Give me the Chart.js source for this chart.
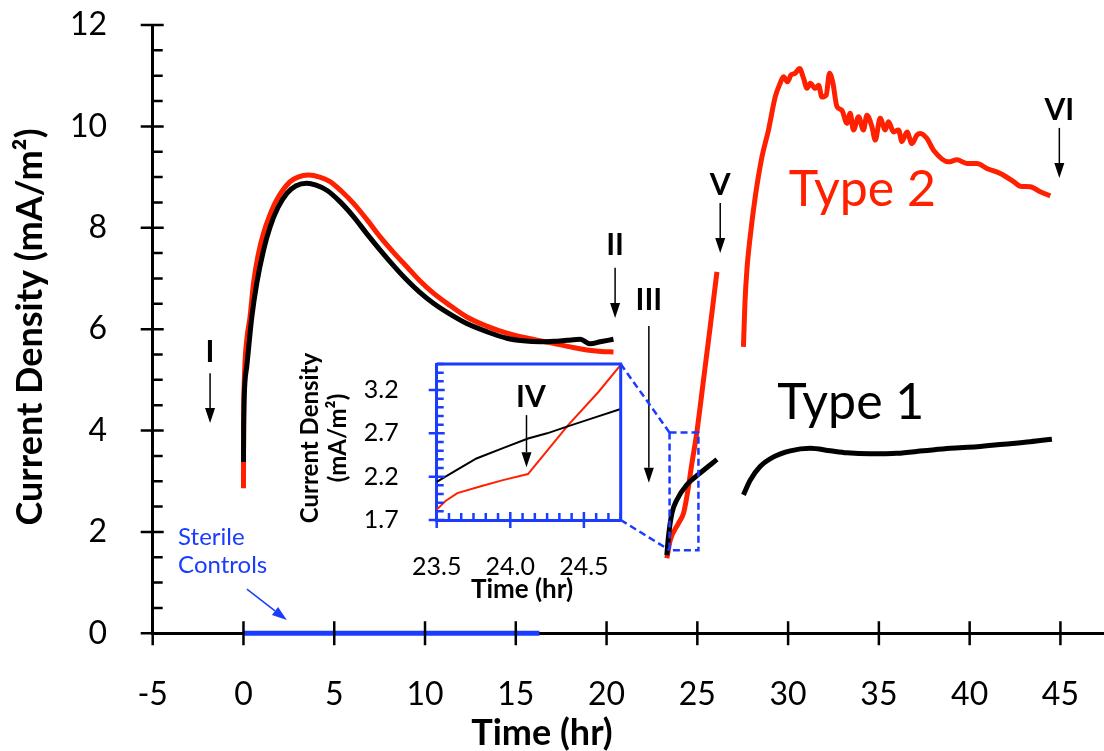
<!DOCTYPE html>
<html>
<head>
<meta charset="utf-8">
<script src="https://cdn.jsdelivr.net/npm/chart.js@4.4.1/dist/chart.umd.min.js"></script>
<style>
  html, body { margin: 0; padding: 0; background: #fff; overflow: hidden; }
  #wrap { position: relative; width: 1104px; height: 751px; }
  #main { position: absolute; left: 0; top: 0; }
  #inset { position: absolute; left: 290px; top: 350px; }
</style>
</head>
<body>
<div id="wrap">
  <canvas id="main" width="1104" height="751"></canvas>
  <canvas id="inset" width="340" height="260"></canvas>
</div>
<script>
// Time (hr) / current density (mA/m2). null marks a break between runs.
const type1Time = [0, 0.01, 0.03, 0.08, 0.18, 0.46, 0.73, 1.1, 1.47, 1.9, 2.39, 2.9, 3.49, 4.0, 4.59, 5.3, 6.06, 6.8, 7.53, 8.3, 9.0, 9.7, 10.46, 11.4, 12.3, 13.4, 14.51, 15.4, 16.34, 17.1, 17.81, 18.55, 19.1, 19.65, 20.38,
  22,
  23.32, 23.41, 23.6, 23.87, 24.42, 25.15, 26.08,
  27,
  27.54, 27.91, 28.46, 29.2, 30.12, 31.22, 32.32, 33.24, 34.52, 35.99, 37.46, 38.93, 40.4, 41.87, 43.34, 44.53]
const type1Current = [3.38, 4.0, 4.5, 4.95, 5.26, 6.24, 6.9, 7.55, 8.02, 8.4, 8.68, 8.83, 8.88, 8.84, 8.74, 8.52, 8.22, 7.88, 7.56, 7.24, 6.97, 6.73, 6.51, 6.29, 6.11, 5.95, 5.82, 5.77, 5.75, 5.76, 5.78, 5.8, 5.71, 5.75, 5.8,
  null,
  1.54, 1.91, 2.37, 2.63, 2.93, 3.16, 3.43,
  null,
  2.73, 3.02, 3.29, 3.48, 3.6, 3.65, 3.6, 3.56, 3.54, 3.55, 3.6, 3.65, 3.68, 3.73, 3.78, 3.83]

const type2Time = [0, 0.01, 0.04, 0.09, 0.2, 0.36, 0.55, 0.8, 1.1, 1.45, 1.83, 2.57, 3.0, 3.58, 4.2, 4.77, 5.4, 6.06, 6.8, 7.53, 8.3, 9.0, 9.7, 10.46, 11.4, 12.3, 13.4, 14.51, 15.8, 17.07, 18.0, 18.91, 19.7, 20.38,
  22,
  23.32, 23.51, 23.96, 24.24, 24.42, 24.7, 24.97, 25.34, 25.71, 26.08,
  27,
  27.54, 27.62, 27.73, 27.91, 28.19, 28.56, 28.92, 29.29, 29.56, 29.75, 29.97, 30.15, 30.39, 30.63, 30.85, 31.04, 31.22, 31.49, 31.68, 31.86, 32.1, 32.28, 32.47, 32.69, 32.96, 33.24, 33.42, 33.6, 33.88, 34.15, 34.34, 34.62, 34.8, 35.07, 35.35, 35.53, 35.81, 36.08, 36.27, 36.55, 36.82, 37.1, 37.28, 37.65, 38.01, 38.84, 39.3, 39.85, 40.4, 40.95, 41.69, 42.42, 42.79, 43.34, 43.89, 44.44]
const type2Current = [2.86, 4.2, 4.9, 5.39, 5.85, 6.24, 6.9, 7.45, 7.89, 8.25, 8.55, 8.91, 9.0, 9.04, 9.0, 8.91, 8.72, 8.48, 8.16, 7.82, 7.5, 7.23, 6.96, 6.71, 6.46, 6.24, 6.06, 5.92, 5.81, 5.72, 5.65, 5.59, 5.56, 5.55,
  null,
  1.48, 1.84, 2.17, 2.37, 2.69, 3.35, 3.96, 5.0, 6.05, 7.13,
  null,
  5.65, 6.5, 7.17, 7.82, 8.61, 9.4, 9.93, 10.58, 10.85, 10.98, 10.88, 11.01, 11.05, 11.14, 10.95, 10.75, 10.85, 10.75, 10.81, 10.58, 10.62, 11.05, 10.85, 10.39, 10.32, 10.06, 10.26, 9.93, 10.19, 9.93, 10.22, 9.99, 9.73, 10.16, 9.93, 10.09, 9.89, 9.93, 9.7, 9.89, 9.66, 9.83, 9.86, 9.76, 9.53, 9.3, 9.34, 9.27, 9.27, 9.17, 9.07, 8.91, 8.82, 8.81, 8.71, 8.63]

const sterileTime = [0, 4, 8, 12, 16.3]
const sterileCurrent = [0, 0, 0, 0, 0]

const xTicks = [-5, 0, 5, 10, 15, 20, 25, 30, 35, 40, 45]
const yTicks = [0, 2, 4, 6, 8, 10, 12]

// inset (zoom around 23.5 - 24.75 hr)
const insetTime1 = [23.5, 23.64, 23.77, 23.95, 24.12, 24.25, 24.39, 24.55, 24.75]
const insetType1 = [2.14, 2.28, 2.41, 2.53, 2.64, 2.7, 2.78, 2.87, 2.98]
const insetTime2 = [23.5, 23.56, 23.64, 23.8, 23.95, 24.12, 24.39, 24.6, 24.75]
const insetType2 = [1.82, 1.92, 2.01, 2.09, 2.16, 2.23, 2.79, 3.18, 3.49]
const insetXTicks = [23.5, 24.0, 24.5]
const insetYTicks = [1.7, 2.2, 2.7, 3.2]

const RED = '#ff2000'
const BLUE = '#1a3cff'

const pts = (xs, ys) => xs.map((x, i) => ({ x, y: ys[i] }))

function arrow(ctx, x1, y1, x2, y2, color) {
  const ang = Math.atan2(y2 - y1, x2 - x1)
  const hl = 15, hw = 5
  const bx = x2 - hl * Math.cos(ang), by = y2 - hl * Math.sin(ang)
  ctx.strokeStyle = color
  ctx.fillStyle = color
  ctx.lineWidth = 1.5
  ctx.beginPath()
  ctx.moveTo(x1, y1)
  ctx.lineTo(bx, by)
  ctx.stroke()
  ctx.beginPath()
  ctx.moveTo(x2, y2)
  ctx.lineTo(bx + hw * Math.sin(ang), by - hw * Math.cos(ang))
  ctx.lineTo(bx - hw * Math.sin(ang), by + hw * Math.cos(ang))
  ctx.closePath()
  ctx.fill()
}

function text(ctx, str, x, y, font, color, rot) {
  ctx.save()
  ctx.translate(x, y)
  if (rot) ctx.rotate(rot)
  ctx.font = font
  ctx.fillStyle = color
  ctx.textAlign = 'center'
  ctx.textBaseline = 'middle'
  ctx.fillText(str, 0, 0)
  ctx.restore()
}

// no extra label padding: plot edges are fixed by layout.padding and afterFit
function fixX(h) {
  return s => { s.height = h; s.paddingLeft = 0; s.paddingRight = 0 }
}
function fixY(w) {
  return s => { s.width = w; s.paddingTop = 0; s.paddingBottom = 0 }
}

// arrows + roman numerals, in data units of the main chart
const mainNotes = [
  { label: 'I', x: -1.84, y: 5.55, from: 5.13, to: 4.15 },
  { label: 'II', x: 20.47, y: 7.66, from: 7.21, to: 6.22 },
  { label: 'III', x: 22.33, y: 6.57, from: 6.06, to: 2.97 },
  { label: 'V', x: 26.26, y: 8.84, from: 8.49, to: 7.5 },
  { label: 'VI', x: 44.94, y: 10.32, from: 9.97, to: 8.98 },
]
const zoomBox = { x0: 23.47, x1: 25.06, y0: 1.64, y1: 3.96 }

let insetChart

const mainDecor = {
  id: 'mainDecor',
  afterDraw(chart) {
    const { ctx, chartArea: a, scales: { x, y } } = chart
    ctx.save()
    // tick marks
    ctx.strokeStyle = '#000'
    ctx.lineWidth = 2.5
    ctx.beginPath()
    for (let v = 0; v <= 12; v += 0.5) {
      const p = y.getPixelForValue(v)
      if (v % 2 === 0) { ctx.moveTo(a.left - 12, p); ctx.lineTo(a.left + 11, p) }
      else { ctx.moveTo(a.left, p); ctx.lineTo(a.left + 10, p) }
    }
    xTicks.forEach(v => {
      const p = x.getPixelForValue(v)
      ctx.moveTo(p, a.bottom - 12)
      ctx.lineTo(p, a.bottom + 12)
    })
    ctx.stroke()

    // axis titles
    text(ctx, 'Time (hr)', 542, 733, 'bold 36px Lato', '#000')
    text(ctx, 'Current Density (mA/m²)', 30, 327, 'bold 36px Lato', '#000', -Math.PI / 2)

    // numerals and arrows
    mainNotes.forEach(n => {
      const px = x.getPixelForValue(n.x)
      text(ctx, n.label, px, y.getPixelForValue(n.y), 'bold 30px Lato', '#000')
      arrow(ctx, px, y.getPixelForValue(n.from), px, y.getPixelForValue(n.to), '#000')
    })

    text(ctx, 'Type 2', x.getPixelForValue(34.09), y.getPixelForValue(8.74), '50px Lato', RED)
    text(ctx, 'Type 1', x.getPixelForValue(33.45), y.getPixelForValue(4.55), '50px Lato', '#000')

    ctx.font = '24px Lato'
    ctx.fillStyle = BLUE
    ctx.textAlign = 'left'
    ctx.textBaseline = 'middle'
    ctx.fillText('Sterile', x.getPixelForValue(-3.6), y.getPixelForValue(1.9))
    ctx.fillText('Controls', x.getPixelForValue(-3.6), y.getPixelForValue(1.35))
    arrow(ctx, x.getPixelForValue(0.19), y.getPixelForValue(0.87), x.getPixelForValue(2.39), y.getPixelForValue(0.26), BLUE)

    // dashed zoom box and connectors to the inset
    const bx0 = x.getPixelForValue(zoomBox.x0), bx1 = x.getPixelForValue(zoomBox.x1)
    const by0 = y.getPixelForValue(zoomBox.y0), by1 = y.getPixelForValue(zoomBox.y1)
    ctx.strokeStyle = BLUE
    ctx.lineWidth = 2.5
    ctx.setLineDash([7, 4])
    ctx.strokeRect(bx0, by1, bx1 - bx0, by0 - by1)
    if (insetChart) {
      const ia = insetChart.chartArea
      const ox = insetChart.canvas.offsetLeft, oy = insetChart.canvas.offsetTop
      ctx.beginPath()
      ctx.moveTo(ia.right + ox, ia.top + oy)
      ctx.lineTo(bx0, by1)
      ctx.moveTo(ia.right + ox, ia.bottom + oy)
      ctx.lineTo(bx0, by0)
      ctx.stroke()
    }
    ctx.restore()
  }
}

const insetDecor = {
  id: 'insetDecor',
  afterDraw(chart) {
    const { ctx, chartArea: a, scales: { x, y } } = chart
    ctx.save()
    ctx.strokeStyle = BLUE
    ctx.lineWidth = 3
    ctx.beginPath()
    ctx.moveTo(a.left, a.top); ctx.lineTo(a.right, a.top); ctx.lineTo(a.right, a.bottom)
    ctx.stroke()
    ctx.lineWidth = 2.5
    ctx.beginPath()
    for (let i = 0; i <= 15; i++) {
      const p = x.getPixelForValue(23.5 + i / 12)
      if (i % 6 === 0) { ctx.moveTo(p, a.bottom - 8); ctx.lineTo(p, a.bottom + 8) }
      else { ctx.moveTo(p, a.bottom); ctx.lineTo(p, a.bottom - 7) }
    }
    for (let i = 0; i <= 18; i++) {
      const p = y.getPixelForValue(1.7 + i * 0.1)
      if (i % 5 === 0) { ctx.moveTo(a.left - 8, p); ctx.lineTo(a.left + 8, p) }
      else { ctx.moveTo(a.left, p); ctx.lineTo(a.left + 7, p) }
    }
    ctx.stroke()

    const px = x.getPixelForValue(24.11)
    text(ctx, 'IV', x.getPixelForValue(24.14), y.getPixelForValue(3.12), 'bold 30px Lato', '#000')
    arrow(ctx, px, y.getPixelForValue(2.91), px, y.getPixelForValue(2.31), '#000')

    text(ctx, 'Time (hr)', 232, 240, 'bold 26px Lato', '#000')
    text(ctx, 'Current Density', 20, 88, 'bold 24px Lato', '#000', -Math.PI / 2)
    text(ctx, '(mA/m²)', 48, 88, 'bold 24px Lato', '#000', -Math.PI / 2)
    ctx.restore()
  }
}

function build() {
  insetChart = new Chart(document.getElementById('inset'), {
    type: 'line',
    data: {
      datasets: [
        { data: pts(insetTime1, insetType1), borderColor: '#000', borderWidth: 2, pointRadius: 0, tension: 0, clip: false },
        { data: pts(insetTime2, insetType2), borderColor: RED, borderWidth: 2, pointRadius: 0, tension: 0, clip: false },
      ]
    },
    options: {
      responsive: false, animation: false, devicePixelRatio: 1,
      layout: { padding: { top: 14, right: 9.3, left: 0, bottom: 0 } },
      plugins: { legend: { display: false }, tooltip: { enabled: false } },
      scales: {
        x: {
          type: 'linear', min: 23.5, max: 24.75,
          grid: { display: false }, border: { color: BLUE, width: 3 },
          afterBuildTicks: s => { s.ticks = insetXTicks.map(v => ({ value: v })) },
          afterFit: fixX(90),
          ticks: { font: { family: 'Lato', size: 25 }, color: '#000', padding: 24, maxRotation: 0, autoSkip: false, callback: v => v.toFixed(1) }
        },
        y: {
          min: 1.7, max: 3.5,
          grid: { display: false }, border: { color: BLUE, width: 3 },
          afterBuildTicks: s => { s.ticks = insetYTicks.map(v => ({ value: v })) },
          afterFit: fixY(146.7),
          ticks: { font: { family: 'Lato', size: 25 }, color: '#000', padding: 30, autoSkip: false, callback: v => v.toFixed(1) }
        }
      }
    },
    plugins: [insetDecor]
  })

  new Chart(document.getElementById('main'), {
    type: 'line',
    data: {
      datasets: [
        { label: 'Type 1', data: pts(type1Time, type1Current), borderColor: '#000', borderWidth: 5, pointRadius: 0, spanGaps: false, cubicInterpolationMode: 'monotone', clip: false },
        { label: 'Type 2', data: pts(type2Time, type2Current), borderColor: RED, borderWidth: 5, pointRadius: 0, spanGaps: false, cubicInterpolationMode: 'monotone', clip: false },
        { label: 'Sterile Controls', data: pts(sterileTime, sterileCurrent), borderColor: BLUE, borderWidth: 5, pointRadius: 0, clip: false },
      ]
    },
    options: {
      responsive: false, animation: false, devicePixelRatio: 1,
      layout: { padding: { top: 25, right: 0, left: 0, bottom: 0 } },
      plugins: { legend: { display: false }, tooltip: { enabled: false } },
      scales: {
        x: {
          type: 'linear', min: -5, max: 47.4,
          grid: { display: false }, border: { color: '#000', width: 3 },
          afterBuildTicks: s => { s.ticks = xTicks.map(v => ({ value: v })) },
          afterFit: fixX(117.7),
          ticks: { font: { family: 'Lato', size: 32 }, color: '#000', padding: 34, maxRotation: 0, autoSkip: false, callback: v => String(v) }
        },
        y: {
          min: 0, max: 12,
          grid: { display: false }, border: { color: '#000', width: 3 },
          afterBuildTicks: s => { s.ticks = yTicks.map(v => ({ value: v })) },
          afterFit: fixY(152.7),
          ticks: { font: { family: 'Lato', size: 32 }, color: '#000', padding: 37.7, autoSkip: false, callback: v => String(v) }
        }
      }
    },
    plugins: [mainDecor]
  })
}

Promise.all([
  document.fonts.load('32px Lato'),
  document.fonts.load('bold 32px Lato')
]).then(build, build)
</script>
</body>
</html>
